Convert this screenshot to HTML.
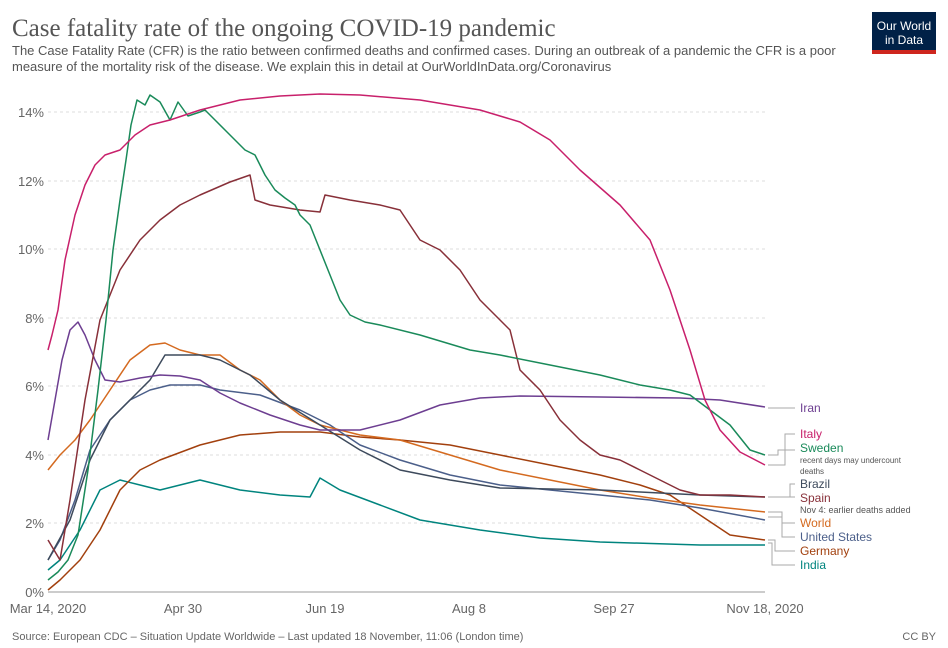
<!DOCTYPE html>
<html><head><meta charset="utf-8"><style>
body{margin:0;background:#fff;font-family:"Liberation Sans",sans-serif;}
</style></head><body>
<svg width="948" height="648" xmlns="http://www.w3.org/2000/svg" style="display:block">
<text x="12" y="36" font-family="Liberation Serif,serif" font-size="25" fill="#555">Case fatality rate of the ongoing COVID-19 pandemic</text>
<text x="12" y="55" font-size="13" fill="#555">The Case Fatality Rate (CFR) is the ratio between confirmed deaths and confirmed cases. During an outbreak of a pandemic the CFR is a poor</text>
<text x="12" y="71" font-size="13" fill="#555">measure of the mortality risk of the disease. We explain this in detail at OurWorldInData.org/Coronavirus</text>
<rect x="872" y="12" width="64" height="42" fill="#002147"/><rect x="872" y="50" width="64" height="4" fill="#ce261e"/>
<text x="904" y="30" font-size="12" fill="#fff" text-anchor="middle">Our World</text>
<text x="904" y="44" font-size="12" fill="#fff" text-anchor="middle">in Data</text>
<g stroke="#ddd" stroke-dasharray="3,3">
<line x1="48" x2="765" y1="112" y2="112"/><line x1="48" x2="765" y1="181" y2="181"/><line x1="48" x2="765" y1="249" y2="249"/><line x1="48" x2="765" y1="318" y2="318"/><line x1="48" x2="765" y1="386" y2="386"/><line x1="48" x2="765" y1="455" y2="455"/><line x1="48" x2="765" y1="523" y2="523"/>
</g>
<line x1="48" x2="765" y1="592" y2="592" stroke="#999"/>
<g font-size="13" fill="#666" text-anchor="end">
<text x="44" y="117">14%</text><text x="44" y="186">12%</text><text x="44" y="254">10%</text><text x="44" y="323">8%</text><text x="44" y="391">6%</text><text x="44" y="460">4%</text><text x="44" y="528">2%</text><text x="44" y="597">0%</text>
</g>
<g font-size="13" fill="#666" text-anchor="middle">
<text x="48" y="613">Mar 14, 2020</text><text x="183" y="613">Apr 30</text><text x="325" y="613">Jun 19</text><text x="469" y="613">Aug 8</text><text x="614" y="613">Sep 27</text><text x="765" y="613">Nov 18, 2020</text>
</g>
<g fill="none" stroke-width="1.5" stroke-linejoin="round">
<polyline stroke="#00847e" points="48,570 60,560 80,530 100,490 120,480 140,485 160,490 200,480 240,490 280,495 310,497 320,478 340,490 380,505 420,520 480,530 540,538 600,542 700,545 765,545"/>
<polyline stroke="#a2400e" points="48,590 60,580 80,560 100,530 120,490 140,470 160,460 200,445 240,435 280,432 320,432 360,437 400,440 450,445 500,455 550,465 600,475 640,485 670,495 700,515 730,535 765,540"/>
<polyline stroke="#4b5f8a" points="48,560 60,540 75,500 90,450 110,420 130,400 150,390 170,385 200,385 220,390 260,395 300,410 330,425 360,445 400,460 450,475 500,485 550,490 600,495 650,500 700,508 765,520"/>
<polyline stroke="#d46a20" points="48,470 60,455 75,440 90,420 110,390 130,360 150,345 165,343 180,350 200,355 220,355 240,370 260,380 280,400 300,415 320,425 360,435 400,440 450,455 500,470 550,480 600,490 650,498 700,505 765,512"/>
<polyline stroke="#3d4a5c" points="48,560 70,520 90,460 110,420 130,400 150,380 165,355 185,355 200,355 220,360 250,375 280,400 320,425 360,450 400,470 450,480 500,488 600,490 700,495 765,497"/>
<polyline stroke="#6d3e91" points="48,440 55,400 62,360 70,330 78,322 85,335 95,360 105,380 120,382 140,378 160,375 180,376 200,380 220,393 240,403 270,415 300,425 320,430 360,430 400,420 440,405 480,398 520,396 600,397 680,398 720,400 765,407"/>
<polyline stroke="#883039" points="48,540 60,560 70,500 85,400 100,320 120,270 140,240 160,220 180,205 200,195 230,182 250,175 255,200 270,205 300,210 320,212 325,195 350,200 380,205 400,210 420,240 440,250 460,270 480,300 500,320 510,330 520,370 540,390 560,420 580,440 600,455 620,460 640,470 660,480 680,490 700,495 730,495 765,497"/>
<polyline stroke="#1a8a5a" points="48,580 58,572 68,560 78,535 88,470 98,390 106,320 113,250 120,200 126,160 131,125 137,100 145,105 150,95 160,102 170,120 178,102 188,116 200,112 205,110 215,120 225,130 235,140 245,150 255,155 265,175 275,190 285,198 295,205 300,215 310,225 320,250 330,275 340,300 350,315 365,322 380,325 420,335 470,350 500,355 550,365 600,375 640,385 670,390 690,395 710,410 730,425 750,450 765,455"/>
<polyline stroke="#c8206b" points="48,350 52,335 58,310 65,260 75,215 85,185 95,165 105,155 120,150 135,135 150,125 170,120 200,110 240,100 280,96 320,94 360,95 420,100 480,110 520,122 550,140 580,170 620,205 650,240 670,290 690,350 705,400 720,430 740,452 765,465"/>
</g>
<g stroke="#aaa" fill="none">
<polyline points="768,408 795,408"/>
<polyline points="768,465 785,465 785,434 795,434"/>
<polyline points="768,455 778,455 778,450 795,450"/>
<polyline points="768,497 790,497 790,484 795,484"/>
<polyline points="768,497 795,497"/>
<polyline points="768,512 782,512 782,523 795,523"/>
<polyline points="768,517 782,517 782,537 795,537"/>
<polyline points="768,540 775,540 775,551 795,551"/>
<polyline points="768,543 772,543 772,565 795,565"/>
</g>
<g font-size="12">
<text x="800" y="412" fill="#6d3e91">Iran</text>
<text x="800" y="438" fill="#c8206b">Italy</text>
<text x="800" y="452" fill="#1a8a5a">Sweden</text>
<text x="800" y="463" font-size="8" fill="#555">recent days may undercount</text>
<text x="800" y="474" font-size="8" fill="#555">deaths</text>
<text x="800" y="488" fill="#3d4a5c">Brazil</text>
<text x="800" y="502" fill="#883039">Spain</text>
<text x="800" y="513" font-size="9" fill="#555">Nov 4: earlier deaths added</text>
<text x="800" y="527" fill="#d46a20">World</text>
<text x="800" y="541" fill="#4b5f8a">United States</text>
<text x="800" y="555" fill="#a2400e">Germany</text>
<text x="800" y="569" fill="#00847e">India</text>
</g>
<text x="12" y="640" font-size="11" fill="#666">Source: European CDC – Situation Update Worldwide – Last updated 18 November, 11:06 (London time)</text>
<text x="936" y="640" font-size="11" fill="#666" text-anchor="end">CC BY</text>
</svg>
</body></html>
